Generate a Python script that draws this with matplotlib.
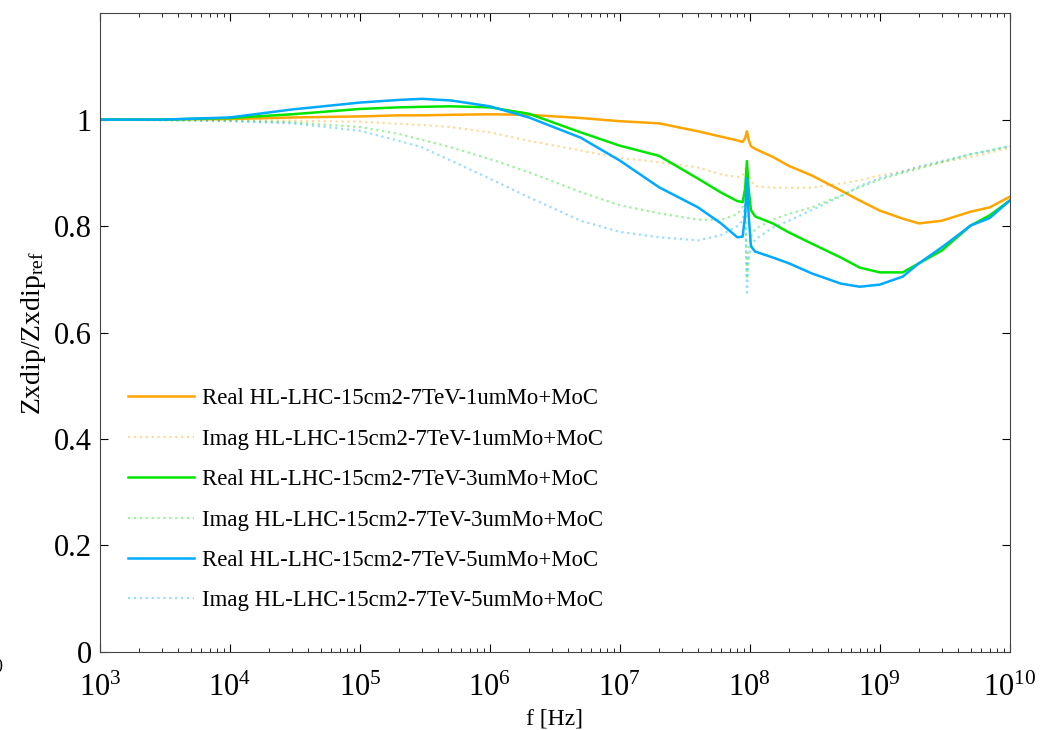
import matplotlib
matplotlib.use("Agg")
import matplotlib.pyplot as plt

plt.rcParams["font.family"] = "Liberation Serif"
plt.rcParams["mathtext.fontset"] = "custom"
plt.rcParams["mathtext.rm"] = "Liberation Serif"
plt.rcParams["mathtext.it"] = "Liberation Serif:italic"

# frequency points [Hz]
freq = [1e3, 3e3, 1e4, 3e4, 1e5, 2e5, 3e5, 5e5, 1e6, 2e6, 5e6, 1e7, 2e7, 4e7, 6e7,
        8e7, 8.8e7, 9.2e7, 9.5e7, 9.8e7, 1.02e8, 1.1e8, 1.5e8, 2e8, 3e8, 5e8, 7e8,
        1e9, 1.5e9, 2e9, 3e9, 5e9, 7e9, 1e10]

# Zxdip / Zxdip_ref
real_1um = [1.0, 1.0, 1.001, 1.004, 1.006, 1.008, 1.008, 1.009, 1.01, 1.009, 1.003, 0.997,
            0.993, 0.978, 0.968, 0.961, 0.958, 0.965, 0.978, 0.962, 0.95, 0.945, 0.93, 0.913,
            0.895, 0.867, 0.848, 0.829, 0.814, 0.805, 0.81, 0.827, 0.835, 0.855]
imag_1um = [1.0, 1.0, 0.999, 0.998, 0.996, 0.992, 0.99, 0.986, 0.976, 0.96, 0.942, 0.928,
            0.92, 0.91, 0.897, 0.892, 0.895, 0.905, 0.915, 0.9, 0.885, 0.875, 0.872, 0.872,
            0.872, 0.88, 0.886, 0.895, 0.903, 0.91, 0.92, 0.93, 0.938, 0.947]
real_3um = [1.0, 1.0, 1.003, 1.01, 1.02, 1.023, 1.024, 1.025, 1.023, 1.011, 0.976, 0.951,
            0.932, 0.889, 0.863, 0.847, 0.845, 0.87, 0.922, 0.87, 0.83, 0.818, 0.805, 0.788,
            0.767, 0.741, 0.722, 0.713, 0.713, 0.73, 0.754, 0.801, 0.82, 0.848]
imag_3um = [1.0, 0.999, 0.998, 0.995, 0.986, 0.973, 0.962, 0.948, 0.926, 0.901, 0.864, 0.839,
            0.824, 0.812, 0.812, 0.822, 0.835, 0.87, 0.7, 0.76, 0.78, 0.795, 0.812, 0.823,
            0.835, 0.857, 0.873, 0.887, 0.9, 0.908, 0.92, 0.935, 0.942, 0.95]
real_5um = [1.0, 1.0, 1.004, 1.019, 1.032, 1.037, 1.039, 1.036, 1.025, 1.004, 0.966, 0.923,
            0.873, 0.835, 0.805, 0.779, 0.78, 0.82, 0.89, 0.82, 0.762, 0.752, 0.741, 0.73,
            0.711, 0.692, 0.686, 0.69, 0.705, 0.73, 0.76, 0.801, 0.815, 0.848]
imag_5um = [1.0, 0.999, 0.997, 0.993, 0.979, 0.96, 0.948, 0.923, 0.889, 0.854, 0.81, 0.789,
            0.779, 0.773, 0.783, 0.8, 0.81, 0.84, 0.675, 0.74, 0.76, 0.775, 0.797, 0.81,
            0.83, 0.856, 0.875, 0.89, 0.902, 0.912, 0.922, 0.935, 0.942, 0.95]

labels = ["Real HL-LHC-15cm2-7TeV-1umMo+MoC", "Imag HL-LHC-15cm2-7TeV-1umMo+MoC",
          "Real HL-LHC-15cm2-7TeV-3umMo+MoC", "Imag HL-LHC-15cm2-7TeV-3umMo+MoC",
          "Real HL-LHC-15cm2-7TeV-5umMo+MoC", "Imag HL-LHC-15cm2-7TeV-5umMo+MoC"]

orange = "#FFA500"
green = "#00E600"
blue = "#00AAFF"

fig = plt.figure(figsize=(10.41, 7.3), dpi=100)
ax = fig.add_axes([0.096, 0.107, 0.874, 0.875])

series = [(real_1um, orange, "-"), (imag_1um, orange, ":"),
          (real_3um, green, "-"), (imag_3um, green, ":"),
          (real_5um, blue, "-"), (imag_5um, blue, ":")]
for (y, c, ls), lab in zip(series, labels):
    if ls == "-":
        ax.plot(freq, y, color=c, lw=1.8, ls=ls, label=lab)
    else:
        ax.plot(freq, y, color=c, lw=1.6, ls=ls, alpha=0.4, label=lab)

ax.set_xscale("log")
ax.set_xlim(1e3, 1e10)
ax.set_ylim(0, 1.2)
ax.set_yticks([0, 0.2, 0.4, 0.6, 0.8, 1])
ax.set_yticklabels(["0", "0.2", "0.4", "0.6", "0.8", "1"])
ax.tick_params(which="both", direction="in", top=True, right=True, labelsize=22)
ax.tick_params(axis="y", pad=6)
ax.tick_params(axis="x", pad=16)
ax.tick_params(which="major", length=6)
ax.tick_params(which="minor", length=3)
for s in ax.spines.values():
    s.set_color("#444444")

ax.set_xlabel("f [Hz]", fontsize=17, labelpad=4)
ax.set_ylabel(r"Zxdip/Zxdip$_{\rm ref}$", fontsize=20, labelpad=4)

ax.legend(loc="center left", bbox_to_anchor=(0.031, 0.238), frameon=False,
          fontsize=16.4, handlelength=2.9, handletextpad=0.35, labelspacing=0.85,
          borderaxespad=0, borderpad=0)

# clipped label remnant at the left edge, as in the original image
fig.text(-0.006, 0.086, "0", fontsize=13, va="center", ha="left")

plt.savefig("out.png", dpi=100)
